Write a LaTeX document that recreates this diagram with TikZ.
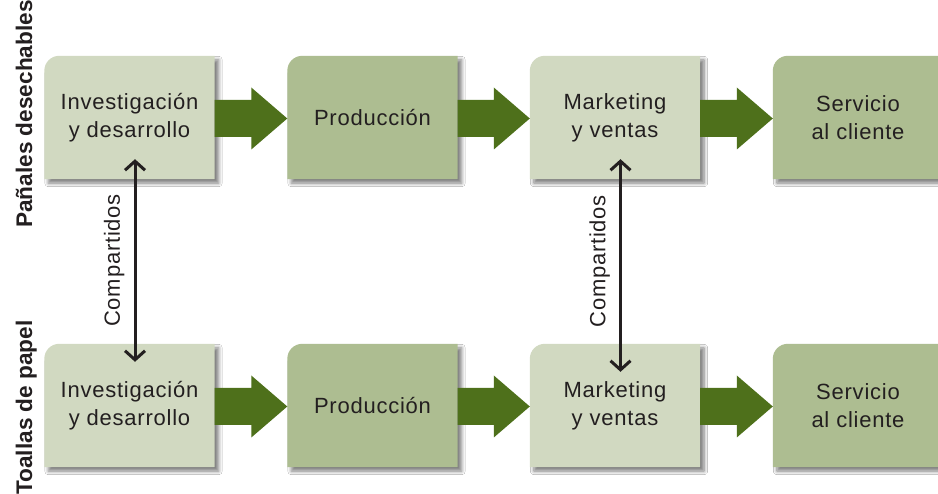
\documentclass[tikz,border=0pt]{standalone}
\usepackage{fontspec}
\setmainfont{Liberation Sans}
\newfontfamily\boxfont{Liberation Sans}[LetterSpace=3.5]
\usetikzlibrary{shadows.blur,arrows.meta,calc}
\pgfdeclarelayer{background}
\pgfsetlayers{background,main}
\definecolor{boxlight}{RGB}{209,217,193}
\definecolor{boxdark}{RGB}{173,189,145}
\definecolor{arrowgreen}{RGB}{78,112,27}
\definecolor{txt}{RGB}{35,31,32}
\tikzset{
  stage/.style={minimum width=170pt, minimum height=123pt, inner sep=0pt, align=center, text=txt,
    font=\boxfont\fontsize{22}{28}\selectfont},
  sidelabel/.style={rotate=90, anchor=base, text=txt, inner sep=0pt,
    font=\bfseries\fontsize{22.6}{27}\selectfont},
  shared/.style={line width=3pt, draw=txt,
    {Straight Barb[length=9pt,width=20pt]}-{Straight Barb[length=9pt,width=20pt]}},
  sharedlabel/.style={sloped, above, inner sep=9pt, text=txt,
    font=\boxfont\fontsize{22}{26}\selectfont},
  boxshadow/.style={blur shadow={shadow xshift=4pt, shadow yshift=-4pt, shadow blur radius=3.5pt,
    shadow blur steps=8, shadow opacity=50}},
}
\newcommand\stagefill[2]{\fill[#2, boxshadow] (#1.south west) -- ([yshift=-15pt]#1.north west)
  arc[start angle=180, end angle=90, radius=15pt] -- (#1.north east) -- (#1.south east) -- cycle;}
\newcommand\flowarrow[2]{\fill[arrowgreen] let \p1=(#1.east), \p2=(#2.west) in
  (\x1,\y1+17.5pt) -- (\x2-36pt,\y1+17.5pt) -- (\x2-36pt,\y1+30pt) -- (\x2,\y1-1pt)
  -- (\x2-36pt,\y1-32pt) -- (\x2-36pt,\y1-19.5pt) -- (\x1,\y1-19.5pt) -- cycle;}
\begin{document}
\begin{tikzpicture}[x=1pt,y=-1pt]
\useasboundingbox (0,0) rectangle (938,494);
% top row: Pañales desechables
\node[stage] (rd1) at (129.5,117.5) {Investigación\\y desarrollo};
\node[stage] (pr1) at (372.5,117.5) {Producción};
\node[stage] (mk1) at (615,117.5) {Marketing\\y ventas};
\node[stage] (sc1) at (858,117.5) {Servicio\\al cliente};
% bottom row: Toallas de papel
\node[stage] (rd2) at (129.5,405.5) {Investigación\\y desarrollo};
\node[stage] (pr2) at (372.5,405.5) {Producción};
\node[stage] (mk2) at (615,405.5) {Marketing\\y ventas};
\node[stage] (sc2) at (858,405.5) {Servicio\\al cliente};
\begin{pgfonlayer}{background}
  \fill[white] (0,0) rectangle (938,494);
  \stagefill{rd1}{boxlight}
  \stagefill{pr1}{boxdark}
  \stagefill{mk1}{boxlight}
  \stagefill{sc1}{boxdark}
  \stagefill{rd2}{boxlight}
  \stagefill{pr2}{boxdark}
  \stagefill{mk2}{boxlight}
  \stagefill{sc2}{boxdark}
  \flowarrow{rd1}{pr1}
  \flowarrow{pr1}{mk1}
  \flowarrow{mk1}{sc1}
  \flowarrow{rd2}{pr2}
  \flowarrow{pr2}{mk2}
  \flowarrow{mk2}{sc2}
\end{pgfonlayer}
% side labels
\node[sidelabel] (lab1) at (32,114) {Pañales desechables};
\node[sidelabel] (lab2) at (32,407.5) {Toallas de papel};
% shared activities
\draw[shared] ([xshift=5.5pt,yshift=-18pt]rd2.north) -- node[sharedlabel] (sh1) {Compartidos} ([xshift=5.5pt,yshift=20pt]rd1.south);
\draw[shared] ([xshift=5.5pt,yshift=-28pt]mk2.north) -- node[sharedlabel, pos=0.52] (sh2) {Compartidos} ([xshift=5.5pt,yshift=20pt]mk1.south);
\end{tikzpicture}
\end{document}
